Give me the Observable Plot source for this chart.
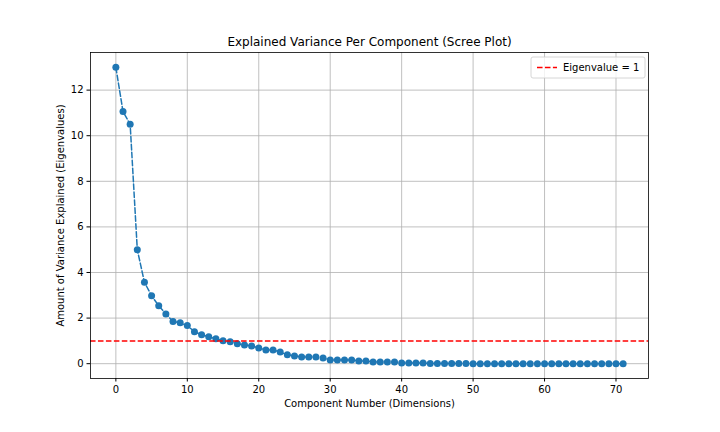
<!DOCTYPE html>
<html><head>
<meta charset="utf-8">
<script src="https://cdn.jsdelivr.net/npm/d3@7"></script>
<script src="https://cdn.jsdelivr.net/npm/@observablehq/plot@0.6"></script>
<style>body{margin:0;background:#fff} svg{font-family:"DejaVu Sans"}</style>
</head><body><div id="chart"></div>
<script>
const eigenvalues = [
  13.0, 11.06, 10.5, 5.0, 3.57, 2.98, 2.54, 2.18, 1.85, 1.79,
  1.67, 1.40, 1.27, 1.18, 1.09, 1.01, 0.96, 0.87, 0.82, 0.78,
  0.69, 0.60, 0.60, 0.51, 0.39, 0.34, 0.29, 0.29, 0.29, 0.25,
  0.16, 0.16, 0.16, 0.16, 0.12, 0.12, 0.07, 0.07, 0.07, 0.07,
  0.03, 0.03, 0.03, 0.03, 0.01, 0.01, 0.01, 0.01, 0.01, 0.01,
  0.0, 0.0, 0.0, 0.0, 0.0, 0.0, 0.0, 0.0, 0.0, 0.0,
  0.0, 0.0, 0.0, 0.0, 0.0, 0.0, 0.0, 0.0, 0.0, 0.0,
  0.0, 0.0
];
const threshold = 1;
const xTicks = [0, 10, 20, 30, 40, 50, 60, 70];
const yTicks = [0, 2, 4, 6, 8, 10, 12];
const titleText = "Explained Variance Per Component (Scree Plot)";
const xLabel = "Component Number (Dimensions)";
const yLabel = "Amount of Variance Explained (Eigenvalues)";
const legendLabel = "Eigenvalue = 1";

const data = eigenvalues.map((v, i) => ({component: i, value: v}));
const blue = "#1f77b4";
const dash = "5.55,2.4";

const plot = Plot.plot({
  width: 720, height: 432,
  marginLeft: 90, marginRight: 72, marginTop: 52, marginBottom: 54,
  style: {fontFamily: "DejaVu Sans", fontSize: "10px", color: "#000", background: "#fff"},
  x: {domain: [-3.55, 74.55]},
  y: {domain: [-0.65, 13.65]},
  marks: [
    Plot.gridX(xTicks, {stroke: "#b0b0b0", strokeOpacity: 1, strokeWidth: 0.8}),
    Plot.gridY(yTicks, {stroke: "#b0b0b0", strokeOpacity: 1, strokeWidth: 0.8}),
    Plot.axisX({ticks: xTicks, tickSize: 3.5, tickPadding: 3.5, label: null, fontSize: 10}),
    Plot.axisY({ticks: yTicks, tickSize: 3.5, tickPadding: 3.5, label: null, fontSize: 10}),
    Plot.line(data, {x: "component", y: "value", stroke: blue, strokeWidth: 1.5, strokeDasharray: dash}),
    Plot.dot(data, {x: "component", y: "value", r: 3.5, fill: blue, stroke: "none"}),
    Plot.ruleY([threshold], {stroke: "#ff0000", strokeWidth: 1.5, strokeDasharray: dash}),
    Plot.frame({stroke: "#000", strokeWidth: 0.8}),
    Plot.text([titleText], {frameAnchor: "top", dy: -10, lineAnchor: "middle", textAnchor: "middle", fontSize: 12, fill: "#000"}),
    Plot.text([xLabel], {frameAnchor: "bottom", dy: 25, lineAnchor: "middle", textAnchor: "middle", fontSize: 10, fill: "#000"}),
    Plot.text([yLabel], {frameAnchor: "left", dx: -30, rotate: -90, lineAnchor: "middle", textAnchor: "middle", fontSize: 10, fill: "#000"})
  ]
});
document.getElementById("chart").append(plot);

// legend
const svg = d3.select(plot);
const lg = svg.append("g").attr("text-anchor", "start");
lg.append("rect").attr("x", 531).attr("y", 57).attr("width", 114).attr("height", 21)
  .attr("rx", 2).attr("fill", "#fff").attr("fill-opacity", 0.8).attr("stroke", "#ccc").attr("stroke-width", 0.8);
lg.append("line").attr("x1", 537).attr("x2", 557).attr("y1", 67.5).attr("y2", 67.5)
  .attr("stroke", "#ff0000").attr("stroke-width", 1.5).attr("stroke-dasharray", dash);
lg.append("text").attr("x", 563).attr("y", 67.5).attr("dy", "0.35em").attr("text-anchor", "start")
  .attr("font-size", 10).attr("font-family", "DejaVu Sans").attr("fill", "#000").text(legendLabel);
</script>
</body></html>
